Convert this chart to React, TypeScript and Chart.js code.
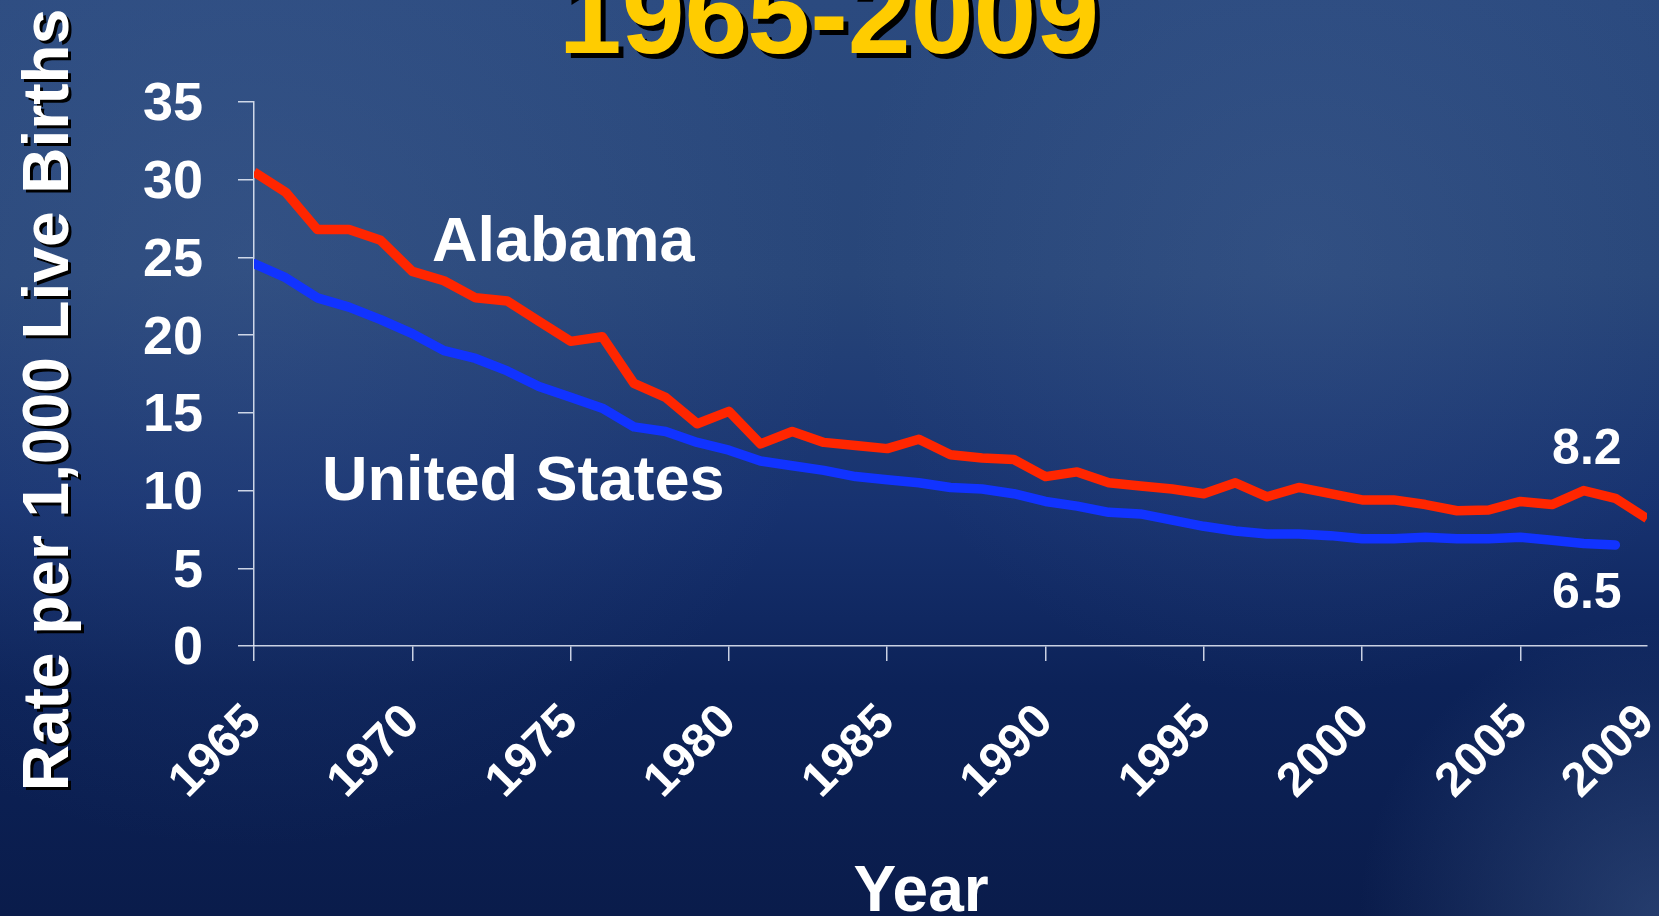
import { useEffect, useRef } from "react";
import { Chart, registerables } from "chart.js";

Chart.register(...registerables);

// ---------- data ----------
const years = [
  1965, 1966, 1967, 1968, 1969, 1970, 1971, 1972, 1973, 1974,
  1975, 1976, 1977, 1978, 1979, 1980, 1981, 1982, 1983, 1984,
  1985, 1986, 1987, 1988, 1989, 1990, 1991, 1992, 1993, 1994,
  1995, 1996, 1997, 1998, 1999, 2000, 2001, 2002, 2003, 2004,
  2005, 2006, 2007, 2008, 2009,
];

const alabamaRates = [
  30.5, 29.2, 26.8, 26.8, 26.1, 24.1, 23.5, 22.4, 22.2, 20.9,
  19.6, 19.9, 16.9, 16.0, 14.3, 15.1, 13.0, 13.8, 13.1, 12.9,
  12.7, 13.3, 12.3, 12.1, 12.0, 10.9, 11.2, 10.5, 10.3, 10.1,
  9.8, 10.5, 9.6, 10.2, 9.8, 9.4, 9.4, 9.1, 8.7, 8.75,
  9.3, 9.1, 10.0, 9.5, 8.2,
];

const usRates: (number | null)[] = [
  24.6, 23.7, 22.4, 21.8, 21.0, 20.1, 19.0, 18.5, 17.7, 16.7,
  16.0, 15.3, 14.1, 13.8, 13.1, 12.6, 11.9, 11.6, 11.3, 10.9,
  10.7, 10.5, 10.2, 10.1, 9.8, 9.3, 9.0, 8.6, 8.5, 8.1,
  7.7, 7.4, 7.2, 7.2, 7.1, 6.9, 6.9, 7.0, 6.9, 6.9,
  7.0, 6.8, 6.6, 6.5, null,
];

const xTickYears = [1965, 1970, 1975, 1980, 1985, 1990, 1995, 2000, 2005, 2009];
const yTickValues = [0, 5, 10, 15, 20, 25, 30, 35];

const chartTitle = "1965-2009";
const yAxisTitle = "Rate per 1,000 Live Births";
const xAxisTitle = "Year";
const seriesNames = ["Alabama", "United States"];
const endValueLabels = ["8.2", "6.5"];

// ---------- styling ----------
const FONT = "'Liberation Sans', Arial, Helvetica, sans-serif";
const AXIS_COLOR = "rgba(235,240,250,0.85)";
const W = 1659;
const H = 916;

const backgroundPlugin = {
  id: "slideBackground",
  beforeDraw(chart: any) {
    const { ctx } = chart;
    ctx.save();
    const g = ctx.createLinearGradient(0, 0, 0, H);
    g.addColorStop(0, "#2b4a7f");
    g.addColorStop(0.3, "#284679");
    g.addColorStop(0.55, "#173270");
    g.addColorStop(0.75, "#0c2258");
    g.addColorStop(1, "#0a1c4b");
    ctx.fillStyle = g;
    ctx.fillRect(0, 0, W, H);
    const r1 = ctx.createRadialGradient(250, 250, 0, 250, 250, 600);
    r1.addColorStop(0, "rgba(80,110,160,0.25)");
    r1.addColorStop(1, "rgba(80,110,160,0)");
    ctx.fillStyle = r1;
    ctx.fillRect(0, 0, W, H);
    const r2 = ctx.createRadialGradient(1300, 250, 0, 1300, 250, 450);
    r2.addColorStop(0, "rgba(90,120,170,0.18)");
    r2.addColorStop(1, "rgba(90,120,170,0)");
    ctx.fillStyle = r2;
    ctx.fillRect(0, 0, W, H);
    const r3 = ctx.createRadialGradient(1659, 916, 0, 1659, 916, 300);
    r3.addColorStop(0, "rgba(70,100,150,0.45)");
    r3.addColorStop(1, "rgba(70,100,150,0)");
    ctx.fillStyle = r3;
    ctx.fillRect(0, 0, W, H);
    ctx.restore();
  },
};

function shadowText(ctx: any, text: string, x: number, y: number, color: string, dx: number, dy: number) {
  ctx.fillStyle = "#000000";
  ctx.fillText(text, x + dx, y + dy);
  ctx.fillStyle = color;
  ctx.fillText(text, x, y);
}

const textPlugin = {
  id: "slideText",
  afterDraw(chart: any) {
    const { ctx } = chart;
    const xs = chart.scales.x;
    const ys = chart.scales.y;
    ctx.save();
    ctx.textBaseline = "alphabetic";

    // title
    ctx.font = `bold 113px ${FONT}`;
    ctx.textAlign = "center";
    shadowText(ctx, chartTitle, 829, 53, "#ffcc00", 5, 5);

    // y axis title
    ctx.save();
    ctx.translate(68, 400);
    ctx.rotate(-Math.PI / 2);
    ctx.font = `bold 64px ${FONT}`;
    ctx.textAlign = "center";
    ctx.fillStyle = "#000000";
    ctx.fillText(yAxisTitle, -3, 3);
    ctx.fillStyle = "#ffffff";
    ctx.fillText(yAxisTitle, 0, 0);
    ctx.restore();

    // x axis title
    ctx.font = `bold 64px ${FONT}`;
    ctx.textAlign = "center";
    ctx.fillStyle = "#ffffff";
    ctx.fillText(xAxisTitle, 921, 911);

    // series labels
    ctx.font = `bold 63px ${FONT}`;
    ctx.textAlign = "left";
    ctx.fillText(seriesNames[0], xs.getPixelForValue(1970.62), ys.getPixelForValue(24.77));
    ctx.fillText(seriesNames[1], xs.getPixelForValue(1967.15), ys.getPixelForValue(9.39));

    // end values
    ctx.font = `bold 50px ${FONT}`;
    ctx.textAlign = "center";
    ctx.fillText(endValueLabels[0], xs.getPixelForValue(2007.1), ys.getPixelForValue(11.71));
    ctx.fillText(endValueLabels[1], xs.getPixelForValue(2007.1), ys.getPixelForValue(2.44));

    ctx.restore();
  },
};

export default function App() {
  const canvasRef = useRef<HTMLCanvasElement | null>(null);

  useEffect(() => {
    const canvas = canvasRef.current;
    if (!canvas) return;
    const chart = new Chart(canvas, {
      type: "line",
      data: {
        datasets: [
          {
            label: seriesNames[0],
            data: years.map((yr, i) => ({ x: yr, y: alabamaRates[i] })),
            borderColor: "#ff2600",
            backgroundColor: "#ff2600",
            borderWidth: 9.5,
            pointRadius: 0,
            tension: 0,
            borderJoinStyle: "round",
          },
          {
            label: seriesNames[1],
            data: years.map((yr, i) => ({ x: yr, y: usRates[i] })),
            borderColor: "#1133ff",
            backgroundColor: "#1133ff",
            borderWidth: 9.5,
            pointRadius: 0,
            tension: 0,
            borderJoinStyle: "round",
            borderCapStyle: "round",
          },
        ],
      },
      options: {
        responsive: false,
        animation: false,
        devicePixelRatio: 1,
        layout: { padding: { top: 102, right: 12, left: 0, bottom: 0 } },
        plugins: {
          legend: { display: false },
          tooltip: { enabled: false },
          title: { display: false },
        },
        scales: {
          x: {
            type: "linear",
            min: 1965,
            max: 2009,
            afterBuildTicks: (s: any) => {
              s.ticks = xTickYears.map((v) => ({ value: v }));
            },
            afterFit: (s: any) => {
              s.height = 270;
              s.paddingLeft = 0;
              s.paddingRight = 0;
            },
            ticks: {
              color: "#ffffff",
              font: { family: FONT, size: 48, weight: "bold" },
              minRotation: 45,
              maxRotation: 45,
              padding: 33,
              autoSkip: false,
              callback: (v: any) => String(v),
            },
            grid: {
              drawOnChartArea: false,
              drawTicks: true,
              tickLength: 15,
              color: AXIS_COLOR,
              tickColor: (c: any) => (c.tick && c.tick.value === 2009 ? "rgba(0,0,0,0)" : AXIS_COLOR),
              lineWidth: 1.5,
            },
            border: { display: true, color: AXIS_COLOR, width: 1.5 },
          },
          y: {
            type: "linear",
            min: 0,
            max: 35,
            afterBuildTicks: (s: any) => {
              s.ticks = yTickValues.map((v) => ({ value: v }));
            },
            afterFit: (s: any) => {
              s.width = 254;
              s.paddingTop = 0;
              s.paddingBottom = 0;
            },
            ticks: {
              color: "#ffffff",
              font: { family: FONT, size: 54, weight: "bold" },
              padding: 35,
              labelOffset: 3.5,
            },
            grid: {
              drawOnChartArea: false,
              drawTicks: true,
              tickLength: 16,
              color: AXIS_COLOR,
              lineWidth: 1.5,
            },
            border: { display: true, color: AXIS_COLOR, width: 1.5 },
          },
        },
      } as any,
      plugins: [backgroundPlugin, textPlugin],
    });
    return () => chart.destroy();
  }, []);

  return (
    <div style={{ position: "fixed", left: 0, top: 0, width: W, height: H, overflow: "hidden", background: "#0a1c4b" }}>
      <canvas ref={canvasRef} width={W} height={H} style={{ display: "block", width: W, height: H }} />
    </div>
  );
}
